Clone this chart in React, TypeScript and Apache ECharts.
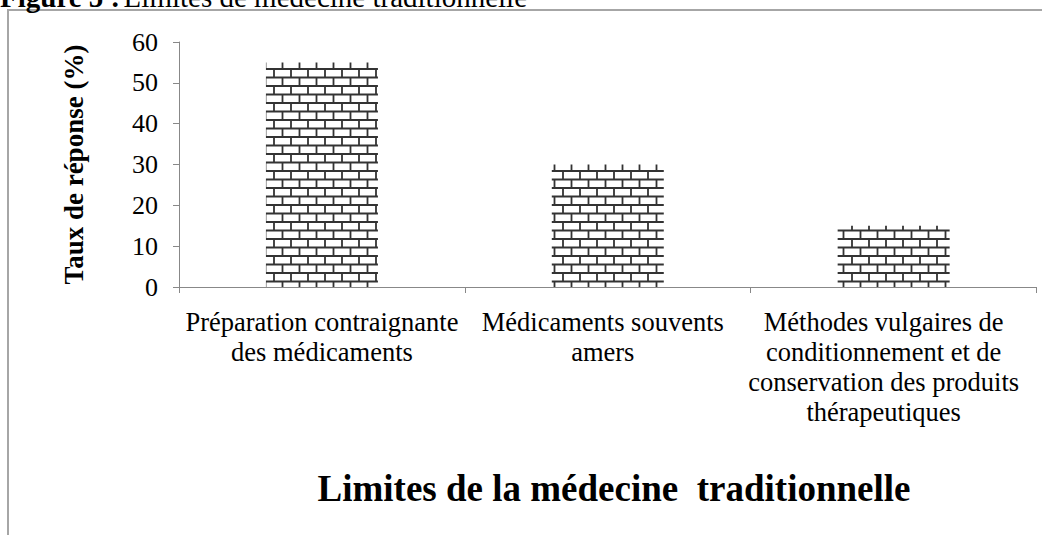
import React, { useEffect, useRef } from "react";
import * as echarts from "echarts";

const categories = [
  "Préparation contraignante\ndes médicaments",
  "Médicaments souvents\namers",
  "Méthodes vulgaires de\nconditionnement et de\nconservation des produits\nthérapeutiques",
];
const values = [55, 30, 15];
const yTicks = { min: 0, max: 60, interval: 10 };
const yTitle = "Taux de réponse (%)";
const chartTitle = "Limites de la médecine  traditionnelle";
const captionBold = "Figure 5 :";
const captionText = "Limites de médecine traditionnelle";

const FONT = "'Liberation Serif', 'Times New Roman', serif";
const AXIS_GRAY = "#888888";

const brickSvg =
  "<svg xmlns='http://www.w3.org/2000/svg' width='17' height='17'>" +
  "<rect width='17' height='17' fill='white'/>" +
  "<path d='M0 1H17M0 9.5H17M2 1V9.5M10.5 9.5V17' stroke='#333333' stroke-width='1.8' fill='none'/>" +
  "</svg>";
const brickUrl = "data:image/svg+xml;charset=utf-8," + encodeURIComponent(brickSvg);

const labelStyle = { fontFamily: FONT, fontSize: 26.5, lineHeight: 30, color: "#000" };

export default function App() {
  const ref = useRef<HTMLDivElement>(null);
  useEffect(() => {
    if (!ref.current) return;
    const chart = echarts.init(ref.current, null, { renderer: "svg" });
    chart.setOption({
      animation: false,
      backgroundColor: "#ffffff",
      textStyle: { fontFamily: FONT },
      title: {
        text: chartTitle,
        left: 609,
        top: 465,
        textAlign: "center",
        textStyle: {
          fontFamily: FONT,
          fontSize: 37,
          fontWeight: "bold",
          color: "#000",
        },
      },
      grid: { left: 179, top: 42, right: 5, bottom: 248, containLabel: false },
      xAxis: {
        type: "category",
        data: categories,
        axisLine: { show: true, lineStyle: { color: AXIS_GRAY, width: 1 } },
        axisTick: { show: true, alignWithLabel: false, length: 6, lineStyle: { color: AXIS_GRAY } },
        axisLabel: {
          interval: 0,
          margin: 20,
          ...labelStyle,
          align: "center",
          formatter: (v: string, i: number) =>
            v
              .split("\n")
              .map((s) => "{c" + i + "|" + s + "}")
              .join("\n"),
          rich: {
            c0: { ...labelStyle },
            c1: { ...labelStyle, padding: [0, 10, 0, 0] },
            c2: { ...labelStyle, padding: [0, 20, 0, 0] },
          },
        },
        splitLine: { show: false },
      },
      yAxis: {
        type: "value",
        min: yTicks.min,
        max: yTicks.max,
        interval: yTicks.interval,
        name: yTitle,
        nameLocation: "middle",
        nameRotate: 90,
        nameGap: 92,
        nameTextStyle: {
          fontFamily: FONT,
          fontSize: 27,
          fontWeight: "bold",
          color: "#000",
        },
        axisLine: { show: true, lineStyle: { color: AXIS_GRAY, width: 1 } },
        axisTick: { show: true, length: 6, lineStyle: { color: AXIS_GRAY } },
        axisLabel: {
          margin: 21,
          fontFamily: FONT,
          fontSize: 26,
          color: "#000",
        },
        splitLine: { show: false },
      },
      series: [
        {
          type: "bar",
          data: values,
          barWidth: 112,
          itemStyle: {
            color: {
              image: brickUrl,
              repeat: "repeat",
              imageWidth: 17,
              imageHeight: 17,
            },
          },
        },
      ],
      graphic: [
        {
          type: "rect",
          silent: true,
          shape: { x: 8, y: 10, width: 1200, height: 700 },
          style: { fill: "none", stroke: "#a6a6a6", lineWidth: 2 },
        },
        {
          type: "text",
          x: 0,
          y: 11,
          style: {
            text: "{b|" + captionBold + "} {n|" + captionText + "}",
            verticalAlign: "bottom",
            rich: {
              b: { fontFamily: FONT, fontSize: 29, fontWeight: "bold", fill: "#000" },
              n: { fontFamily: FONT, fontSize: 29, fill: "#000" },
            },
          },
        },
      ],
    });
    return () => chart.dispose();
  }, []);
  return (
    <div
      ref={ref}
      style={{ position: "fixed", left: 0, top: 0, width: 1042, height: 535, background: "#fff" }}
    />
  );
}
